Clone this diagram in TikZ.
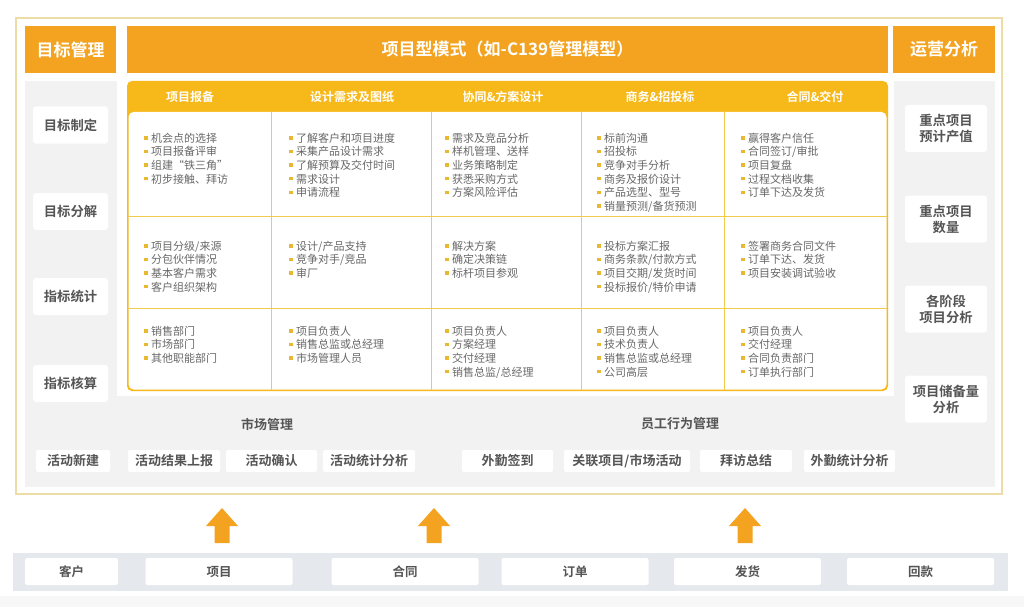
\documentclass[tikz,border=0pt]{standalone}
\usepackage{fontspec}
\setmainfont{Noto Sans CJK SC}[BoldFont={Noto Sans CJK SC Bold}]
\definecolor{orng}{HTML}{F3A31F}
\definecolor{band}{HTML}{F7B819}
\definecolor{gridc}{HTML}{F1CB4C}
\definecolor{bulc}{HTML}{E9B830}
\definecolor{panel}{HTML}{F2F2F2}
\definecolor{labtxt}{HTML}{555555}
\definecolor{celltxt}{HTML}{686868}
\definecolor{tanc}{HTML}{EDDCA6}
\definecolor{barc}{HTML}{E5E8EC}
\definecolor{foot}{HTML}{F7F7F7}
\newcommand{\bul}{\textcolor{bulc}{\rule[2.6pt]{3.4pt}{3.4pt}}\hspace{3.6pt}}
\newcommand{\cellitems}[4]{%
  \foreach \t [count=\i] in {#4} {
    \node[cellitem] (#1-\i) at (#2, {#3+(\i-1)*13.6}) {\bul\t};
  }%
}
\begin{document}
\begin{tikzpicture}[x=1pt,y=-1pt,
  head/.style={fill=orng, text=white, inner sep=0pt, minimum height=47pt,
    font=\bfseries\fontsize{17}{20}\selectfont},
  colhead/.style={text=white, inner sep=0pt, font=\bfseries\fontsize{12}{14}\selectfont},
  cellitem/.style={anchor=base west, inner sep=0pt, text=celltxt,
    font=\fontsize{11}{13.6}\selectfont},
  lbox/.style={fill=white, rounded corners=3pt, minimum width=75pt, minimum height=37pt,
    inner sep=0pt, text=labtxt, font=\bfseries\fontsize{13.3}{16}\selectfont},
  rbox/.style={fill=white, rounded corners=3pt, minimum width=82pt, minimum height=47pt,
    inner sep=0pt, align=center, text=labtxt, font=\bfseries\fontsize{13.3}{16}\selectfont},
  sbox/.style={fill=white, rounded corners=2pt, minimum height=22pt, inner sep=0pt,
    text=labtxt, font=\bfseries\fontsize{13}{15}\selectfont},
  seclab/.style={inner sep=0pt, text=labtxt, font=\bfseries\fontsize{13}{15}\selectfont},
  bbox/.style={fill=white, rounded corners=2pt, minimum height=27pt, inner sep=0pt,
    text=labtxt, font=\bfseries\fontsize{12.5}{15}\selectfont},
  upar/.style={fill=orng}
]
\useasboundingbox (0,0) rectangle (1024,607);
\fill[white] (0,0) rectangle (1024,607);
\fill[foot] (0,596) rectangle (1024,607);

% outer frame
\draw[tanc, line width=1.3pt] (16,18) rectangle (1002,494);

% headers
\node[head, minimum width=91pt] (hgoal) at (70.5,49.5) {目标管理};
\node[head, minimum width=761pt] (hmain) at (507.5,49.5) {项目型模式（如-C139管理模型）};
\node[head, minimum width=102pt] (hops) at (944,49.5) {运营分析};

% gray panels
\fill[panel] (25,81) rectangle (995,487);
\fill[white] (117,81) rectangle (894,396);

% table
\fill[band, rounded corners=5pt] (127,81) rectangle (888,391);
\fill[white, rounded corners=5pt] (128.5,112) rectangle (886.5,389.5);
\foreach \x in {271,431,581,724} \draw[gridc, line width=0.9pt] (\x,112) -- (\x,389.5);
\foreach \y in {216.5,308.5} \draw[gridc, line width=0.9pt] (128.5,\y) -- (886.5,\y);

\node[colhead] (c1) at (190,97) {项目报备};
\node[colhead] (c2) at (352,97) {设计需求及图纸};
\node[colhead] (c3) at (503,97) {协同\&方案设计};
\node[colhead] (c4) at (660,97) {商务\&招投标};
\node[colhead] (c5) at (815,97) {合同\&交付};

% row 1
\cellitems{a1}{144}{142.2}{机会点的选择,项目报备评审,组建“铁三角”,初步接触、拜访}
\cellitems{a2}{289}{142.2}{了解客户和项目进度,采集产品设计需求,了解预算及交付时间,需求设计,申请流程}
\cellitems{a3}{445}{142.2}{需求及竞品分析,样机管理、送样,业务策略制定,获悉采购方式,方案风险评估}
\cellitems{a4}{597}{142.2}{标前沟通,招投标,竞争对手分析,商务及报价设计,产品选型、型号,销量预测/备货预测}
\cellitems{a5}{741}{142.2}{赢得客户信任,合同签订/审批,项目复盘,过程文档收集,订单下达及发货}
% row 2
\cellitems{b1}{144}{250.2}{项目分级/来源,分包伙伴情况,基本客户需求,客户组织架构}
\cellitems{b2}{289}{250.2}{设计/产品支持,竞争对手/竞品,审厂}
\cellitems{b3}{445}{250.2}{解决方案,确定决策链,标杆项目参观}
\cellitems{b4}{597}{250.2}{投标方案汇报,商务条款/付款方式,项目交期/发货时间,投标报价/特价申请}
\cellitems{b5}{741}{250.2}{签署商务合同文件,订单下达、发货,项目安装调试验收}
% row 3
\cellitems{d1}{144}{335.2}{销售部门,市场部门,其他职能部门}
\cellitems{d2}{289}{335.2}{项目负责人,销售总监或总经理,市场管理人员}
\cellitems{d3}{445}{335.2}{项目负责人,方案经理,交付经理,销售总监/总经理}
\cellitems{d4}{597}{335.2}{项目负责人,技术负责人,销售总监或总经理,公司高层}
\cellitems{d5}{741}{335.2}{项目负责人,交付经理,合同负责部门,订单执行部门}

% left boxes
\node[lbox] (g1) at (70.5,125) {目标制定};
\node[lbox] (g2) at (70.5,211.5) {目标分解};
\node[lbox] (g3) at (70.5,296.5) {指标统计};
\node[lbox] (g4) at (70.5,383.5) {指标核算};

% right boxes
\node[rbox] (o1) at (946,128.5) {重点项目\\预计产值};
\node[rbox] (o2) at (946,219) {重点项目\\数量};
\node[rbox] (o3) at (946,309) {各阶段\\项目分析};
\node[rbox] (o4) at (946,399) {项目储备量\\分析};

% bottom sections
\node[seclab] (mkt) at (267,424) {市场管理};
\node[seclab] (emp) at (680,424) {员工行为管理};
\node[sbox, minimum width=74pt] (s1) at (73,461) {活动新建};
\node[sbox, minimum width=92pt] (s2) at (174,461) {活动结果上报};
\node[sbox, minimum width=91pt] (s3) at (271.5,461) {活动确认};
\node[sbox, minimum width=92pt] (s4) at (369,461) {活动统计分析};
\node[sbox, minimum width=91pt] (s5) at (507.5,461) {外勤签到};
\node[sbox, minimum width=126pt] (s6) at (627,461) {关联项目/市场活动};
\node[sbox, minimum width=92pt] (s7) at (746,461) {拜访总结};
\node[sbox, minimum width=91pt] (s8) at (849.5,461) {外勤统计分析};

% arrows
\foreach \cx in {222,434,745} {
  \fill[upar] (\cx-7.5,543) -- (\cx+7.5,543) -- (\cx+7.5,526) -- (\cx+16,526)
    -- (\cx,508) -- (\cx-16,526) -- (\cx-7.5,526) -- cycle;
}

% bottom bar
\fill[barc] (13,553) rectangle (1008,591);
\node[bbox, minimum width=93pt] (f1) at (71.5,571.5) {客户};
\node[bbox, minimum width=147pt] (f2) at (219,571.5) {项目};
\node[bbox, minimum width=147pt] (f3) at (405,571.5) {合同};
\node[bbox, minimum width=147pt] (f4) at (575,571.5) {订单};
\node[bbox, minimum width=147pt] (f5) at (747.5,571.5) {发货};
\node[bbox, minimum width=147pt] (f6) at (920.5,571.5) {回款};
\end{tikzpicture}
\end{document}
